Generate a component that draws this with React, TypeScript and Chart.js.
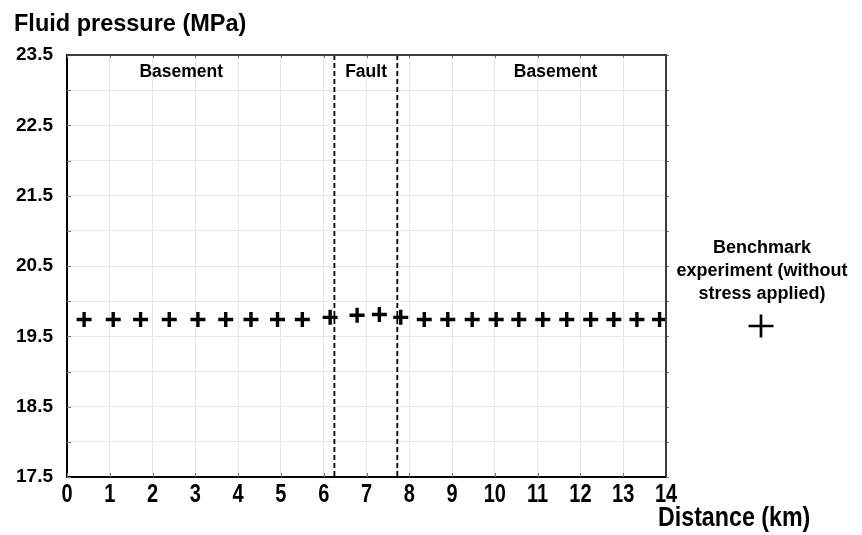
import React, { useEffect, useRef } from "react";
import { Chart, registerables } from "chart.js";

Chart.register(...registerables);

// ---- data ----
const distanceKm = [
  0.4, 1.08, 1.72, 2.39, 3.06, 3.71, 4.3, 4.92, 5.5, 6.15, 6.78, 7.3,
  7.8, 8.35, 8.9, 9.47, 10.03, 10.56, 11.12, 11.68, 12.24, 12.78, 13.32, 13.85,
];
const fluidPressureMPa = [
  19.74, 19.74, 19.74, 19.74, 19.74, 19.74, 19.74, 19.74, 19.74, 19.77, 19.8, 19.81,
  19.77, 19.74, 19.74, 19.74, 19.74, 19.74, 19.74, 19.74, 19.74, 19.74, 19.74, 19.74,
];
const yTickLabels = ["17.5", "18.5", "19.5", "20.5", "21.5", "22.5", "23.5"];
const faultBoundariesKm = [6.25, 7.72];
const regionNames = ["Basement", "Fault", "Basement"];
const regionLabelKm = [2.67, 6.99, 11.42];
const legendLines = ["Benchmark", "experiment (without", "stress applied)"];
const yAxisTitle = "Fluid pressure (MPa)";
const xAxisTitle = "Distance (km)";

const SANS = "'Liberation Sans', Arial, Helvetica, sans-serif";

// draw horizontally condensed text (emulates a narrow bold face)
function condensedText(ctx: CanvasRenderingContext2D, text: string, x: number, y: number, sx: number) {
  ctx.save();
  ctx.translate(x, y);
  ctx.scale(sx, 1);
  ctx.fillText(text, 0, 0);
  ctx.restore();
}

const overlayPlugin = {
  id: "overlay",
  beforeDatasetsDraw(chart: any) {
    const { ctx, chartArea: a, scales } = chart;
    const x = scales.x;
    ctx.save();
    ctx.strokeStyle = "#000";
    ctx.lineWidth = 1.8;
    ctx.setLineDash([5, 3]);
    faultBoundariesKm.forEach((v) => {
      const px = x.getPixelForValue(v);
      ctx.beginPath();
      ctx.moveTo(px, a.top);
      ctx.lineTo(px, a.bottom);
      ctx.stroke();
    });
    ctx.restore();
  },
  afterDraw(chart: any) {
    const { ctx, chartArea: a, scales } = chart;
    const x = scales.x;
    const y = scales.y;
    ctx.save();

    // small frame tick marks
    ctx.strokeStyle = "#777";
    ctx.lineWidth = 1;
    ctx.beginPath();
    y.ticks.forEach((t: any) => {
      const py = Math.round(y.getPixelForValue(t.value)) + 0.5;
      ctx.moveTo(a.left, py);
      ctx.lineTo(a.left + 4, py);
      ctx.moveTo(a.right, py);
      ctx.lineTo(a.right + 3, py);
    });
    x.ticks.forEach((t: any) => {
      const px = Math.round(x.getPixelForValue(t.value)) + 0.5;
      ctx.moveTo(px, a.bottom);
      ctx.lineTo(px, a.bottom - 4);
      ctx.moveTo(px, a.top);
      ctx.lineTo(px, a.top + 3);
    });
    ctx.stroke();

    // top and right frame
    ctx.strokeStyle = "#3a3a3a";
    ctx.lineWidth = 2;
    ctx.beginPath();
    ctx.moveTo(a.left, a.top);
    ctx.lineTo(a.right, a.top);
    ctx.lineTo(a.right, a.bottom);
    ctx.stroke();

    ctx.fillStyle = "#000";
    ctx.textBaseline = "alphabetic";

    // x tick labels (condensed), positioned by the x scale
    ctx.font = `bold 25px ${SANS}`;
    ctx.textAlign = "center";
    x.ticks.forEach((t: any) => {
      condensedText(ctx, String(t.value), x.getPixelForValue(t.value), a.bottom + 24.5, 0.8);
    });

    // region labels
    ctx.font = `bold 17.5px ${SANS}`;
    ctx.textAlign = "center";
    regionNames.forEach((name, i) => {
      ctx.fillText(name, x.getPixelForValue(regionLabelKm[i]), a.top + 22);
    });

    // axis titles
    ctx.textAlign = "left";
    ctx.font = `bold 23.5px ${SANS}`;
    ctx.fillText(yAxisTitle, 14, 31);
    ctx.font = `bold 27px ${SANS}`;
    condensedText(ctx, xAxisTitle, 658, 526, 0.86);

    // legend
    ctx.textAlign = "center";
    ctx.font = `bold 18px ${SANS}`;
    legendLines.forEach((line, i) => {
      ctx.fillText(line, 762, 253 + i * 23);
    });
    ctx.strokeStyle = "#000";
    ctx.lineWidth = 2.7;
    ctx.beginPath();
    ctx.moveTo(748.5, 326);
    ctx.lineTo(773.5, 326);
    ctx.moveTo(761, 314.5);
    ctx.lineTo(761, 337.5);
    ctx.stroke();
    ctx.restore();
  },
};

export default function App() {
  const ref = useRef<HTMLCanvasElement | null>(null);

  useEffect(() => {
    if (!ref.current) return;
    const chart = new Chart(ref.current, {
      type: "scatter",
      data: {
        datasets: [
          {
            label: legendLines.join(" "),
            data: distanceKm.map((d, i) => ({ x: d, y: fluidPressureMPa[i] })),
            pointStyle: "cross",
            pointRadius: 7.5,
            pointHoverRadius: 7.5,
            pointBorderWidth: 3.4,
            borderColor: "#000",
            backgroundColor: "#000",
            showLine: false,
          },
        ],
      },
      options: {
        responsive: false,
        animation: false,
        events: [],
        layout: { padding: { top: 55, right: 196, left: 0, bottom: 0 } },
        plugins: {
          legend: { display: false },
          tooltip: { enabled: false },
        },
        scales: {
          x: {
            type: "linear",
            min: 0,
            max: 14,
            afterFit: (s: any) => {
              s.height = 58;
            },
            ticks: {
              stepSize: 1,
              display: false,
            },
            grid: { color: "#e6e6e6", lineWidth: 1, drawTicks: false },
            border: { color: "#000", width: 2 },
          },
          y: {
            type: "linear",
            min: 17.5,
            max: 23.5,
            afterFit: (s: any) => {
              s.width = 67;
            },
            ticks: {
              stepSize: 0.5,
              padding: 14,
              color: "#000",
              font: { family: SANS, size: 19, weight: "bold" },
              callback: (v: any) => {
                const label = Number(v).toFixed(1);
                return yTickLabels.includes(label) ? label : "";
              },
            },
            grid: { color: "#e6e6e6", lineWidth: 1, drawTicks: false },
            border: { color: "#000", width: 2 },
          },
        },
      },
      plugins: [overlayPlugin],
    });
    return () => chart.destroy();
  }, []);

  return (
    <div style={{ position: "absolute", left: 0, top: 0, width: 862, height: 535, background: "#fff" }}>
      <canvas ref={ref} width={862} height={535} style={{ display: "block" }} />
    </div>
  );
}
